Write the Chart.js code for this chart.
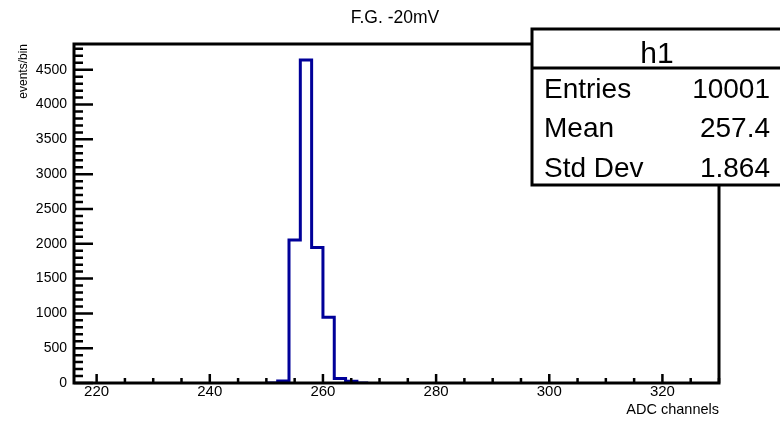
<!DOCTYPE html>
<html>
<head>
<meta charset="utf-8">
<script src="https://cdn.jsdelivr.net/npm/chart.js@4.4.1/dist/chart.umd.min.js"></script>
<style>
  html, body { margin: 0; padding: 0; background: #fff; }
  #wrap { width: 780px; height: 423px; }
</style>
</head>
<body>
<div id="wrap"><canvas id="hist"></canvas></div>
<script>
// histogram h1, bins of width 2 (lower edges + final upper edge)
const binEdges = [250, 252, 254, 256, 258, 260, 262, 264, 266, 268]
const counts   = [0, 30, 2055, 4640, 1945, 945, 65, 25, 0]

const xRange = [216, 330]
const yRange = [0, 4870]
const xTicks = [220, 240, 260, 280, 300, 320]
const yTicks = [0, 500, 1000, 1500, 2000, 2500, 3000, 3500, 4000, 4500]

const statsLabels = ['Entries', 'Mean', 'Std Dev']
const statsValues = ['10001', '257.4', '1.864']

const FONT = '"Liberation Sans", Arial, Helvetica, sans-serif'

const points = binEdges.map((e, i) => ({ x: e, y: i < counts.length ? counts[i] : 0 }))

// ROOT style frame + inward tick marks + stats box
const rootFrame = {
    id: 'rootFrame',
    afterDatasetsDraw(chart) {
        const ctx = chart.ctx
        const { left, right, top, bottom } = chart.chartArea
        const xs = chart.scales.x, ys = chart.scales.y
        ctx.save()
        ctx.strokeStyle = '#000'
        ctx.lineWidth = 3
        ctx.strokeRect(left, top, right - left, bottom - top)

        ctx.lineWidth = 2.5
        ctx.beginPath()
        for (let v = 0; v <= ys.max; v += 100) {
            const py = ys.getPixelForValue(v)
            const len = v % 500 === 0 ? 19 : 9
            ctx.moveTo(left, py)
            ctx.lineTo(left + len, py)
        }
        for (let v = 220; v <= xs.max; v += 5) {
            const px = xs.getPixelForValue(v)
            const len = v % 20 === 0 ? 9 : 5
            ctx.moveTo(px, bottom)
            ctx.lineTo(px, bottom - len)
        }
        ctx.stroke()
        ctx.restore()
    },
    afterDraw(chart) {
        const ctx = chart.ctx
        const bx = 532, by = 29, bw = 252, bh = 156
        ctx.save()
        ctx.fillStyle = '#fff'
        ctx.fillRect(bx, by, bw, bh)
        ctx.strokeStyle = '#000'
        ctx.lineWidth = 3
        ctx.strokeRect(bx, by, bw, bh)
        ctx.beginPath()
        ctx.moveTo(bx, 68)
        ctx.lineTo(bx + bw, 68)
        ctx.stroke()

        ctx.fillStyle = '#000'
        ctx.textBaseline = 'alphabetic'
        ctx.textAlign = 'center'
        ctx.font = '30px ' + FONT
        ctx.fillText('h1', 657, 63)

        ctx.font = '28px ' + FONT
        const rows = [98, 137, 177]
        statsLabels.forEach((lab, i) => {
            ctx.textAlign = 'left'
            ctx.fillText(lab, 544, rows[i])
            ctx.textAlign = 'right'
            ctx.fillText(statsValues[i], 770, rows[i])
        })
        ctx.restore()
    }
}

new Chart(document.getElementById('hist'), {
    type: 'line',
    data: {
        datasets: [{
            label: 'h1',
            data: points,
            stepped: 'before',
            borderColor: '#000099',
            borderWidth: 3,
            pointRadius: 0,
            fill: false
        }]
    },
    options: {
        responsive: true,
        maintainAspectRatio: false,
        animation: false,
        layout: { padding: { top: 0, right: 0, bottom: 0, left: 10 } },
        plugins: {
            legend: { display: false },
            tooltip: { enabled: false },
            title: {
                display: true,
                text: 'F.G. -20mV',
                color: '#000',
                font: { family: FONT, size: 17.5, weight: 'normal' },
                padding: { top: 8, bottom: 15 }
            }
        },
        scales: {
            x: {
                type: 'linear',
                min: xRange[0],
                max: xRange[1],
                grid: { display: false, drawTicks: false },
                border: { display: false },
                afterBuildTicks(scale) { scale.ticks = xTicks.map(v => ({ value: v })) },
                ticks: {
                    color: '#000',
                    padding: 0,
                    maxRotation: 0,
                    autoSkip: false,
                    callback: v => String(v),
                    font: { family: FONT, size: 15 }
                },
                title: {
                    display: true,
                    text: 'ADC channels',
                    align: 'end',
                    color: '#000',
                    font: { family: FONT, size: 14.5 },
                    padding: { top: 0, bottom: 4 }
                },
                afterFit(scale) { scale.height = 40 }
            },
            y: {
                min: yRange[0],
                max: yRange[1],
                grid: { display: false, drawTicks: false },
                border: { display: false },
                afterBuildTicks(scale) { scale.ticks = yTicks.map(v => ({ value: v })) },
                ticks: {
                    color: '#000',
                    padding: 7,
                    autoSkip: false,
                    callback: v => String(v),
                    font: { family: FONT, size: 14 }
                },
                title: {
                    display: true,
                    text: 'events/bin',
                    align: 'end',
                    color: '#000',
                    font: { family: FONT, size: 12 },
                    padding: { top: 6, bottom: 0 }
                },
                afterFit(scale) { scale.width = 64 }
            },
            yRight: {
                position: 'right',
                grid: { display: false, drawTicks: false },
                border: { display: false },
                ticks: { display: false },
                afterFit(scale) { scale.width = 61 }
            }
        }
    },
    plugins: [rootFrame]
})
</script>
</body>
</html>
